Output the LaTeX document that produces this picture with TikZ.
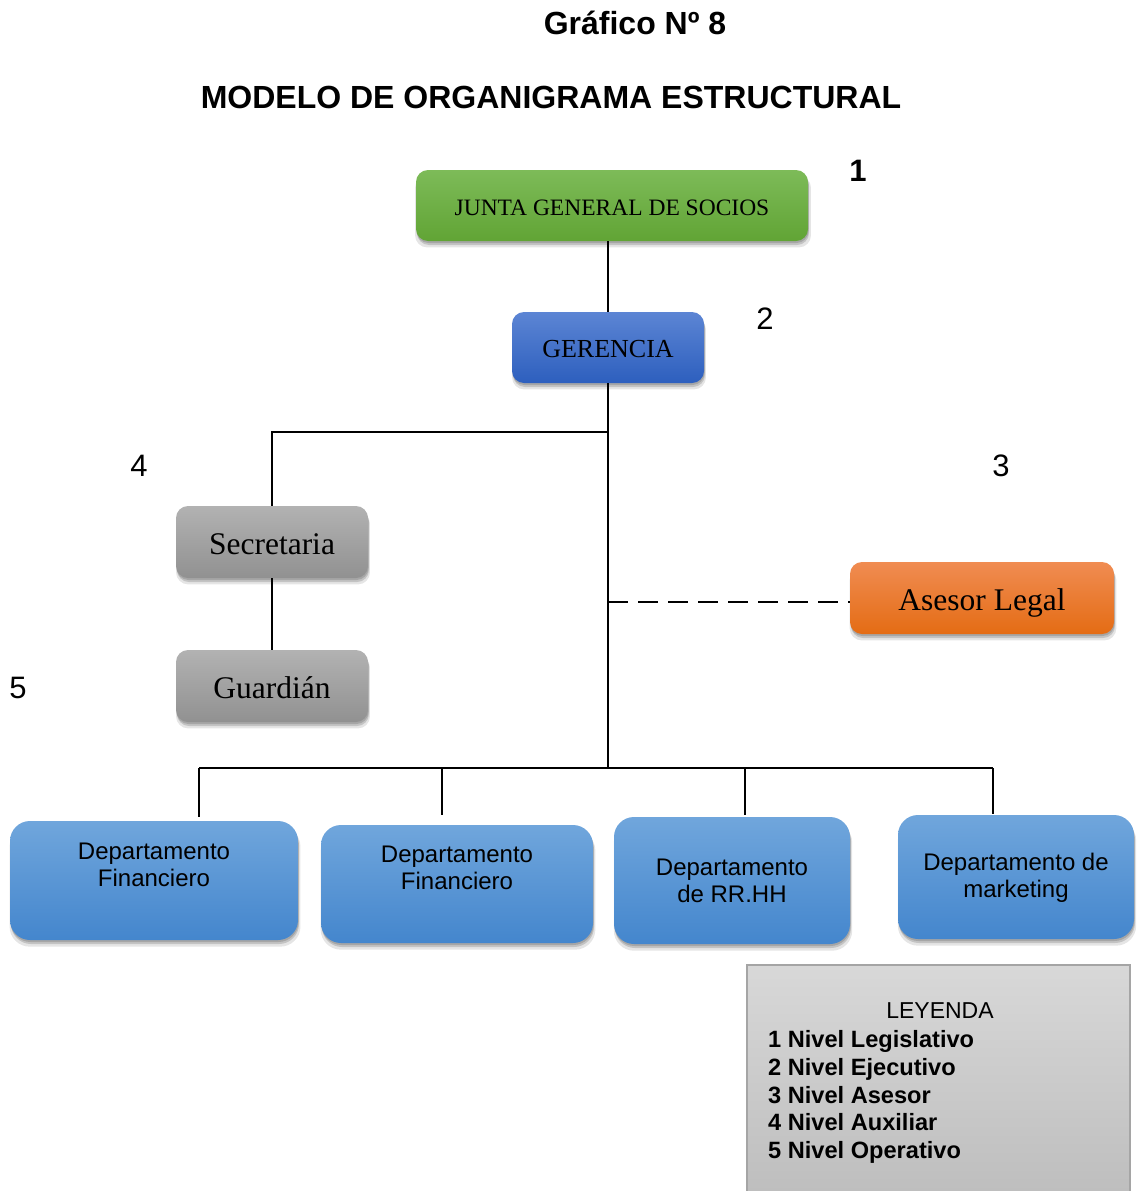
\documentclass[tikz,border=0pt]{standalone}
\usepackage{fontspec}
\setmainfont{Liberation Serif}
\setsansfont{Liberation Sans}
\usetikzlibrary{shadows}
\definecolor{gTop}{RGB}{125,187,88}
\definecolor{gBot}{RGB}{97,164,53}
\definecolor{bTop}{RGB}{92,133,212}
\definecolor{bBot}{RGB}{45,95,190}
\definecolor{yTop}{RGB}{178,178,178}
\definecolor{yBot}{RGB}{145,145,145}
\definecolor{oTop}{RGB}{240,140,82}
\definecolor{oBot}{RGB}{228,108,20}
\definecolor{dTop}{RGB}{112,166,220}
\definecolor{dBot}{RGB}{68,134,205}
\definecolor{lTop}{RGB}{216,216,216}
\definecolor{lBot}{RGB}{190,190,190}
\definecolor{lBord}{RGB}{165,165,165}
\begin{document}
\begin{tikzpicture}[x=1pt,y=-1pt,
  softshadow/.style={
    drop shadow={shadow xshift=1pt, shadow yshift=-6pt, shadow scale=1.01, opacity=0.10, fill=black},
    drop shadow={shadow xshift=1pt, shadow yshift=-4pt, opacity=0.15, fill=black},
    drop shadow={shadow xshift=0.5pt, shadow yshift=-2pt, opacity=0.15, fill=black}},
  boxbase/.style={rectangle, rounded corners=12pt, inner sep=0pt, softshadow},
  greenbox/.style={boxbase, top color=gTop, bottom color=gBot, font=\fontsize{23.5}{26}\selectfont,
    text height=23pt, text depth=2.1pt},
  bluebox/.style={boxbase, top color=bTop, bottom color=bBot, font=\fontsize{26}{28}\selectfont,
    text height=22.5pt, text depth=2.2pt},
  graybox/.style={boxbase, top color=yTop, bottom color=yBot, font=\fontsize{31.5}{34}\selectfont,
    text height=27.6pt, text depth=2.3pt},
  orangebox/.style={boxbase, top color=oTop, bottom color=oBot, font=\fontsize{31.5}{34}\selectfont,
    text height=27.6pt, text depth=2.3pt},
  deptbox/.style={rectangle, rounded corners=20pt, inner sep=0pt, softshadow, top color=dTop, bottom color=dBot},
  depttext/.style={align=center, font=\sffamily\fontsize{24}{27}\selectfont},
  conn/.style={line width=2.5pt},
  levelnum/.style={font=\sffamily\fontsize{31}{34}\selectfont},
  titlefont/.style={font=\sffamily\bfseries\fontsize{32}{36}\selectfont}
]
\useasboundingbox (0,0) rectangle (1136,1191);

% titles
\node[titlefont] (t1) at (635,23) {Gráfico Nº 8};
\node[titlefont] (t2) at (551,97) {MODELO DE ORGANIGRAMA ESTRUCTURAL};

% level numbers
\node[levelnum, font=\sffamily\bfseries\fontsize{31}{34}\selectfont] (n1) at (858,171) {1};
\node[levelnum] (n2) at (765,319) {2};
\node[levelnum] (n3) at (1001,466) {3};
\node[levelnum] (n4) at (139,466) {4};
\node[levelnum] (n5) at (18,688) {5};

% boxes
\node[greenbox, minimum width=392pt, minimum height=71pt] (junta) at (612,205.5) {JUNTA GENERAL DE SOCIOS};
\node[bluebox, minimum width=192pt, minimum height=71pt] (ger) at (608,347.5) {GERENCIA};
\node[graybox, minimum width=192pt, minimum height=72pt] (sec) at (272,542) {Secretaria};
\node[graybox, minimum width=192pt, minimum height=72pt] (gua) at (272,686) {Guardián};
\node[orangebox, minimum width=264pt, minimum height=72pt] (ase) at (982,598) {Asesor Legal};

\node[deptbox, minimum width=288pt, minimum height=119pt] (d1) at (154,880.5) {};
\node[depttext] (d1t) at (154,864.5) {Departamento\\Financiero};
\node[deptbox, minimum width=272pt, minimum height=118pt] (d2) at (457,884) {};
\node[depttext] (d2t) at (457,867.5) {Departamento\\Financiero};
\node[deptbox, minimum width=236pt, minimum height=127pt] (d3) at (732,880.5) {};
\node[depttext] (d3t) at (732,880.5) {Departamento\\de RR.HH};
\node[deptbox, minimum width=236pt, minimum height=124pt] (d4) at (1016,877) {};
\node[depttext] (d4t) at (1016,877.5) {Departamento de\\marketing};

% connectors
\coordinate (hub) at (608,768);
\coordinate (jl) at (608,432);
\coordinate (jd) at (608,602);
\coordinate (b1) at (199,768);
\coordinate (b2) at (442,768);
\coordinate (b3) at (745,768);
\coordinate (b4) at (993,768);

\draw[conn] (ger.north |- junta.south) -- (ger.north);
\draw[conn] (ger.south) -- (hub);
\draw[conn] (jl) -| (sec.north);
\draw[conn] (sec.south) -- (gua.north);
\draw[conn, dash pattern=on 20pt off 10pt] (jd) -- (jd -| ase.west);
\draw[conn] (b1) -- (b4);
\draw[conn] (b1) -- ++(0,49);
\draw[conn] (b2) -- ++(0,47);
\draw[conn] (b3) -- ++(0,47);
\draw[conn] (b4) -- ++(0,46);

% legend
\node[rectangle, draw=lBord, line width=1.5pt, top color=lTop, bottom color=lBot,
  minimum width=383pt, minimum height=227pt, inner sep=0pt] (leg) at (938.5,1078.5) {};
\node[font=\sffamily\fontsize{23}{26}\selectfont] (legt) at (940,1011) {LEYENDA};
\node[anchor=west, align=left, inner sep=0pt,
  font=\sffamily\bfseries\fontsize{23.6}{27.8}\selectfont] (legl) at (768,1097)
  {1 Nivel Legislativo\\2 Nivel Ejecutivo\\3 Nivel Asesor\\4 Nivel Auxiliar\\5 Nivel Operativo};
\end{tikzpicture}
\end{document}
